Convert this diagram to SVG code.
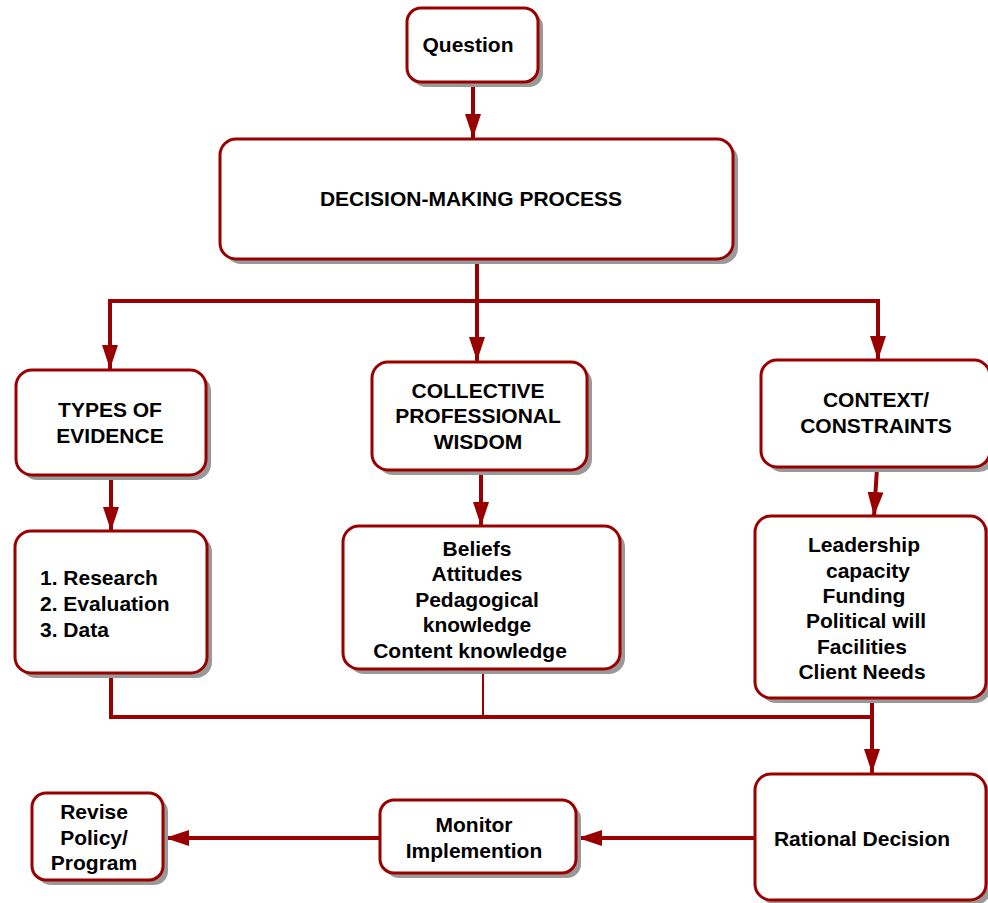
<svg xmlns="http://www.w3.org/2000/svg" width="988" height="903" viewBox="0 0 988 903">
<style>
.box{fill:#fff;stroke:#990000;stroke-width:3}
.sh{fill:#999}
.t{font-family:"Liberation Sans",Arial,sans-serif;font-weight:bold;font-size:21px;fill:#000;text-anchor:middle}
.tl{text-anchor:start}
.c{fill:none;stroke:#990000;stroke-width:4}
.thin{fill:none;stroke:#990000;stroke-width:2}
</style>
<defs>
<marker id="ah" markerUnits="userSpaceOnUse" markerWidth="26" markerHeight="16" refX="24" refY="8" orient="auto">
<path d="M0,0 L24,8 L0,16 Z" fill="#990000"/>
</marker>
</defs>
<rect width="988" height="903" fill="#fff"/>
<g id="connectors">
<line class="c" x1="473" y1="82" x2="473" y2="138" marker-end="url(#ah)"/>
<polyline class="c" points="477,259 477,301"/>
<line class="c" x1="108" y1="301" x2="880" y2="301"/>
<line class="c" x1="110" y1="301" x2="110" y2="369" marker-end="url(#ah)"/>
<line class="c" x1="477" y1="301" x2="477" y2="361" marker-end="url(#ah)"/>
<line class="c" x1="878" y1="301" x2="878" y2="360" marker-end="url(#ah)"/>
<line class="c" x1="111" y1="476" x2="111" y2="531" marker-end="url(#ah)"/>
<line class="c" x1="481" y1="471" x2="481" y2="526" marker-end="url(#ah)"/>
<line class="c" x1="877" y1="468" x2="874" y2="516" marker-end="url(#ah)"/>
<polyline class="c" points="111,674 111,717 872,717"/>
<line class="thin" x1="483" y1="670" x2="483" y2="717"/>
<line class="c" x1="872" y1="699" x2="872" y2="773" marker-end="url(#ah)"/>
<line class="c" x1="755" y1="838" x2="578" y2="838" marker-end="url(#ah)"/>
<line class="c" x1="380" y1="838" x2="165" y2="838" marker-end="url(#ah)"/>
</g>
<g id="question">
<rect class="sh" x="412" y="13" width="131" height="74" rx="14"/>
<rect class="box" x="407" y="8" width="131" height="74" rx="14"/>
<text class="t" x="468" y="52">Question</text>
</g>
<g id="decision">
<rect class="sh" x="225" y="144" width="513" height="120" rx="16"/>
<rect class="box" x="220" y="139" width="513" height="120" rx="16"/>
<text class="t" x="471" y="206">DECISION-MAKING PROCESS</text>
</g>
<g id="types">
<rect class="sh" x="21" y="375" width="190" height="105" rx="16"/>
<rect class="box" x="16" y="370" width="190" height="105" rx="16"/>
<text class="t" x="110" y="417">TYPES OF</text>
<text class="t" x="110" y="443">EVIDENCE</text>
</g>
<g id="collective">
<rect class="sh" x="377" y="367" width="215" height="108" rx="16"/>
<rect class="box" x="372" y="362" width="215" height="108" rx="16"/>
<text class="t" x="478" y="398">COLLECTIVE</text>
<text class="t" x="478" y="423">PROFESSIONAL</text>
<text class="t" x="478" y="449">WISDOM</text>
</g>
<g id="context">
<rect class="sh" x="766" y="365" width="229" height="107" rx="16"/>
<rect class="box" x="761" y="360" width="229" height="107" rx="16"/>
<text class="t" x="876" y="407">CONTEXT/</text>
<text class="t" x="876" y="433">CONSTRAINTS</text>
</g>
<g id="evidence-list">
<rect class="sh" x="20" y="536" width="192" height="142" rx="16"/>
<rect class="box" x="15" y="531" width="192" height="142" rx="16"/>
<text class="t tl" x="40" y="585">1. Research</text>
<text class="t tl" x="40" y="611">2. Evaluation</text>
<text class="t tl" x="40" y="637">3. Data</text>
</g>
<g id="wisdom-list">
<rect class="sh" x="348" y="531" width="277" height="143" rx="16"/>
<rect class="box" x="343" y="526" width="277" height="143" rx="16"/>
<text class="t" x="477" y="556">Beliefs</text>
<text class="t" x="477" y="581">Attitudes</text>
<text class="t" x="477" y="607">Pedagogical</text>
<text class="t" x="477" y="632">knowledge</text>
<text class="t" x="470" y="658">Content knowledge</text>
</g>
<g id="constraints-list">
<rect class="sh" x="760" y="521" width="231" height="182" rx="16"/>
<rect class="box" x="755" y="516" width="231" height="182" rx="16"/>
<text class="t" x="864" y="552">Leadership</text>
<text class="t" x="868" y="578">capacity</text>
<text class="t" x="864" y="603">Funding</text>
<text class="t" x="866" y="628">Political will</text>
<text class="t" x="862" y="654">Facilities</text>
<text class="t" x="862" y="679">Client Needs</text>
</g>
<g id="rational">
<rect class="sh" x="760" y="779" width="231" height="126" rx="16"/>
<rect class="box" x="755" y="774" width="231" height="126" rx="16"/>
<text class="t" x="862" y="846">Rational Decision</text>
</g>
<g id="monitor">
<rect class="sh" x="385" y="805" width="196" height="73" rx="14"/>
<rect class="box" x="380" y="800" width="196" height="73" rx="14"/>
<text class="t" x="474" y="832">Monitor</text>
<text class="t" x="474" y="858">Implemention</text>
</g>
<g id="revise">
<rect class="sh" x="37" y="798" width="131" height="87" rx="14"/>
<rect class="box" x="32" y="793" width="131" height="87" rx="14"/>
<text class="t" x="94" y="819">Revise</text>
<text class="t" x="94" y="845">Policy/</text>
<text class="t" x="94" y="870">Program</text>
</g>
</svg>
